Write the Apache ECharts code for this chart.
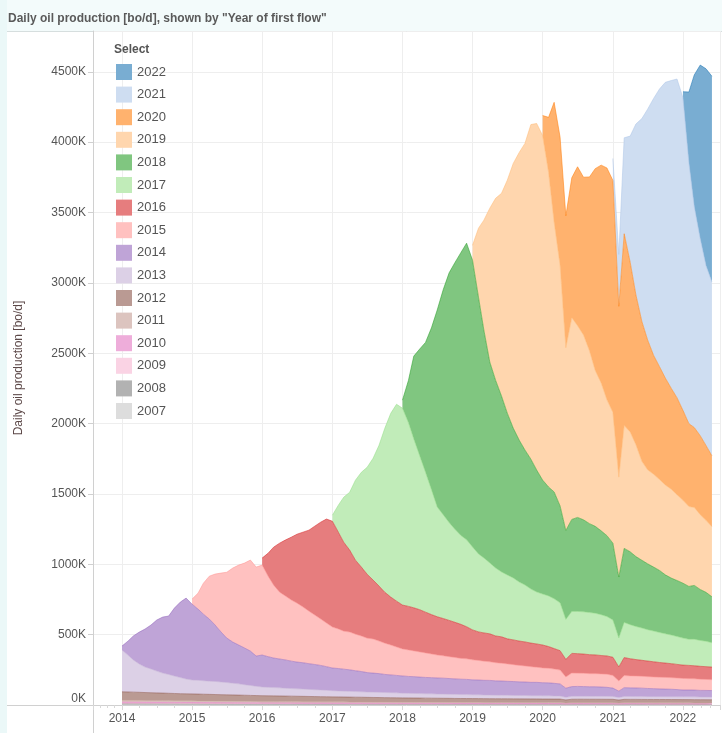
<!DOCTYPE html>
<html lang="en">
<head>
<meta charset="UTF-8">
<title>Daily oil production by year of first flow</title>
<script src="https://cdn.jsdelivr.net/npm/echarts@6.0.0/dist/echarts.min.js"></script>
<style>
  html, body { margin: 0; padding: 0; background: #fff; }
  #main { width: 722px; height: 733px; }
</style>
</head>
<body>
<div id="main"></div>
<script>
// daily oil production in thousand bo/d, one value per month from Jan 2014 to Jun 2022
// each vintage's list starts in January of its year of first flow
const years = ['2007', '2008', '2009', '2010', '2011', '2012', '2013', '2014',
               '2015', '2016', '2017', '2018', '2019', '2020', '2021', '2022'];

const y2007 = [4.0, 4.0, 4.0, 4.0, 3.9, 3.9, 3.8, 3.8, 3.7, 3.7, 3.6, 3.6,
  3.5, 3.5, 3.4, 3.4, 3.3, 3.3, 3.2, 3.2, 3.1, 3.1, 3.0, 3.0,
  3.0, 3.0, 3.0, 2.9, 2.9, 2.9, 2.9, 2.8, 2.8, 2.8, 2.8, 2.8,
  2.8, 2.7, 2.7, 2.7, 2.7, 2.7, 2.6, 2.6, 2.6, 2.6, 2.6, 2.6,
  2.5, 2.5, 2.5, 2.5, 2.5, 2.5, 2.4, 2.4, 2.4, 2.4, 2.4, 2.4,
  2.4, 2.4, 2.3, 2.3, 2.3, 2.3, 2.3, 2.3, 2.2, 2.2, 2.2, 2.2,
  2.1, 2.1, 2.1, 2.1, 1.8, 2.0, 2.0, 2.0, 2.0, 2.0, 2.0, 2.0,
  2.0, 1.8, 2.0, 2.0, 2.0, 1.9, 1.9, 1.9, 1.9, 1.9, 1.9, 1.9,
  1.9, 1.9, 1.9, 1.8, 1.8, 1.8];
const y2008 = [5.0, 5.0, 4.9, 4.9, 4.8, 4.8, 4.7, 4.7, 4.7, 4.6, 4.6, 4.6,
  4.5, 4.5, 4.4, 4.4, 4.4, 4.3, 4.3, 4.2, 4.2, 4.2, 4.1, 4.1,
  4.0, 4.0, 4.0, 3.9, 3.9, 3.9, 3.8, 3.8, 3.8, 3.7, 3.7, 3.7,
  3.6, 3.6, 3.6, 3.5, 3.5, 3.5, 3.4, 3.4, 3.4, 3.3, 3.3, 3.3,
  3.2, 3.2, 3.2, 3.2, 3.1, 3.1, 3.1, 3.1, 3.1, 3.0, 3.0, 3.0,
  3.0, 3.0, 3.0, 3.0, 3.0, 2.9, 2.9, 2.9, 2.9, 2.9, 2.9, 2.9,
  2.9, 2.9, 2.8, 2.8, 2.4, 2.7, 2.7, 2.7, 2.7, 2.7, 2.7, 2.6,
  2.6, 2.3, 2.6, 2.6, 2.6, 2.6, 2.5, 2.5, 2.5, 2.5, 2.5, 2.5,
  2.5, 2.5, 2.4, 2.4, 2.4, 2.4];
const y2009 = [4.0, 4.0, 3.9, 3.9, 3.9, 3.8, 3.8, 3.8, 3.7, 3.7, 3.7, 3.6,
  3.6, 3.5, 3.5, 3.5, 3.4, 3.4, 3.4, 3.3, 3.3, 3.3, 3.2, 3.2,
  3.1, 3.1, 3.1, 3.1, 3.0, 3.0, 3.0, 3.0, 3.0, 3.0, 2.9, 2.9,
  2.9, 2.9, 2.9, 2.8, 2.8, 2.8, 2.8, 2.7, 2.7, 2.7, 2.7, 2.6,
  2.6, 2.6, 2.6, 2.5, 2.5, 2.5, 2.5, 2.5, 2.5, 2.4, 2.4, 2.4,
  2.4, 2.4, 2.4, 2.3, 2.3, 2.3, 2.3, 2.3, 2.2, 2.2, 2.2, 2.2,
  2.1, 2.1, 2.1, 2.1, 1.8, 2.0, 2.0, 2.0, 2.0, 2.0, 2.0, 2.0,
  2.0, 1.8, 2.0, 2.0, 2.0, 2.0, 1.9, 1.9, 1.9, 1.9, 1.9, 1.9,
  1.9, 1.9, 1.9, 1.9, 1.8, 1.8];
const y2010 = [7.0, 6.9, 6.9, 6.8, 6.7, 6.6, 6.5, 6.5, 6.4, 6.3, 6.2, 6.1,
  6.0, 6.0, 5.9, 5.8, 5.7, 5.7, 5.6, 5.5, 5.4, 5.3, 5.2, 5.1,
  5.0, 5.0, 5.0, 4.9, 4.9, 4.9, 4.8, 4.8, 4.8, 4.7, 4.7, 4.6,
  4.5, 4.5, 4.5, 4.4, 4.4, 4.4, 4.3, 4.3, 4.2, 4.2, 4.1, 4.1,
  4.0, 4.0, 4.0, 4.0, 4.0, 4.0, 4.0, 4.0, 3.9, 3.9, 3.9, 3.9,
  3.9, 3.9, 3.9, 3.8, 3.8, 3.8, 3.8, 3.7, 3.7, 3.7, 3.6, 3.6,
  3.5, 3.5, 3.5, 3.5, 3.0, 3.4, 3.4, 3.4, 3.4, 3.4, 3.4, 3.4,
  3.4, 3.0, 3.4, 3.3, 3.3, 3.3, 3.3, 3.2, 3.2, 3.2, 3.1, 3.1,
  3.1, 3.1, 3.0, 3.0, 3.0, 3.0];
const y2011 = [14.0, 13.8, 13.7, 13.5, 13.3, 13.2, 13.0, 12.9, 12.7, 12.5, 12.4, 12.2,
  12.0, 11.8, 11.7, 11.5, 11.3, 11.2, 11.0, 10.8, 10.6, 10.5, 10.3, 10.1,
  10.0, 9.9, 9.8, 9.7, 9.7, 9.6, 9.5, 9.4, 9.3, 9.2, 9.1, 9.1,
  9.0, 8.9, 8.8, 8.8, 8.7, 8.6, 8.5, 8.4, 8.3, 8.2, 8.1, 8.1,
  8.0, 7.9, 7.8, 7.8, 7.7, 7.6, 7.5, 7.4, 7.3, 7.2, 7.1, 7.1,
  7.0, 7.0, 7.0, 6.9, 6.9, 6.9, 6.9, 6.8, 6.8, 6.8, 6.8, 6.8,
  6.8, 6.8, 6.7, 6.7, 5.8, 6.5, 6.5, 6.5, 6.4, 6.4, 6.4, 6.3,
  6.2, 5.5, 6.2, 6.2, 6.2, 6.1, 6.1, 6.1, 6.1, 6.0, 6.0, 6.0,
  6.0, 6.0, 5.9, 5.9, 5.9, 5.8];
const y2012 = [60, 59, 58, 57, 56, 55, 54, 53, 52, 51, 50, 49.5,
  49, 48.3, 47.6, 47, 46.3, 45.6, 45, 44.3, 43.6, 43, 42.3, 41.6,
  41, 40.5, 40, 39.5, 39, 38.5, 38, 37.5, 37, 36.5, 36, 35.5,
  35, 34.6, 34.2, 33.8, 33.4, 33, 32.6, 32.2, 31.8, 31.4, 31, 30.5,
  30, 29.7, 29.5, 29.2, 29, 28.7, 28.5, 28.2, 28, 27.7, 27.5, 27.2,
  27, 26.8, 26.7, 26.5, 26.3, 26.2, 26, 25.8, 25.7, 25.5, 25.3, 25.2,
  25, 24.9, 24.8, 24.7, 21.5, 24.2, 24.4, 24.4, 24.3, 24.3, 24.2, 24.2,
  24, 21, 23.9, 23.8, 23.8, 23.7, 23.7, 23.6, 23.5, 23.5, 23.4, 23.3,
  23, 23, 22.9, 22.8, 22.7, 22.6];
const y2013 = [296, 262, 229, 201, 181, 169, 155, 142, 134, 124, 115, 105,
  99, 98, 96, 94, 93, 90, 87, 84, 80, 75, 71, 66,
  62, 60, 59, 58, 56, 54, 53, 52, 50, 49, 48, 46,
  44, 43, 42, 41, 40, 39, 38, 38, 37, 36, 36, 35,
  34, 33, 33, 32, 31, 31, 30, 30, 29, 29, 28, 28,
  27, 27, 26, 26, 25, 25, 25, 24, 24, 24, 23, 23,
  23, 23, 22, 22, 19, 21, 21, 21, 21, 21, 21, 21,
  21, 18, 21, 21, 20, 20, 20, 20, 20, 20, 20, 20,
  20, 20, 20, 19, 19, 19];
const y2014 = [29, 99, 170, 227, 270, 312, 363, 398, 415, 483, 536, 575,
  539, 506, 473, 441, 401, 355, 316, 292, 276, 261, 244, 215,
  227, 218, 210, 205, 201, 195, 190, 187, 183, 179, 174, 168,
  161, 159, 156, 153, 148, 144, 138, 135, 133, 129, 126, 124,
  122, 120, 119, 117, 116, 115, 114, 113, 112, 110, 109, 108,
  106, 105, 104, 104, 102, 101, 99, 99, 97, 96, 95, 95,
  93, 92, 90, 86, 64, 69, 70, 69, 68, 68, 66, 64,
  59, 45, 62, 61, 61, 60, 58, 57, 55, 54, 53, 51,
  48, 48, 48, 47, 47, 46];
const y2015 = [36, 113, 220, 305, 362, 419, 468, 526, 568, 603, 647, 632,
  639, 572, 518, 475, 454, 434, 419, 396, 373, 351, 330, 310,
  291, 281, 270, 268, 260, 252, 245, 242, 231, 222, 212, 202,
  192, 188, 183, 179, 174, 168, 163, 159, 155, 152, 148, 146,
  142, 139, 136, 132, 129, 126, 124, 120, 117, 114, 111, 107,
  105, 103, 101, 98, 80, 96, 94, 94, 93, 93, 93, 93,
  90, 72, 86, 85, 85, 84, 84, 83, 83, 83, 82, 82,
  82, 81, 80, 79, 78, 77];
const y2016 = [50, 163, 270, 348, 398, 447, 490, 532, 576, 632, 688, 739,
  752, 688, 632, 583, 526, 490, 454, 419, 391, 362, 341, 326,
  312, 310, 306, 300, 290, 280, 272, 265, 258, 250, 242, 228,
  213, 203, 201, 199, 190, 188, 178, 176, 173, 171, 168, 166,
  163, 155, 146, 138, 125, 140, 139, 137, 135, 133, 131, 130,
  129, 100, 128, 122, 117, 114, 111, 108, 105, 102, 100, 97,
  95, 94, 93, 92, 91, 90];
const y2017 = [43, 192, 320, 411, 568, 674, 760, 866, 1001, 1165, 1306, 1399,
  1399, 1306, 1200, 1093, 994, 888, 781, 738, 695, 661, 632, 618,
  589, 554, 533, 504, 483, 461, 454, 440, 419, 405, 384, 369,
  362, 360, 354, 340, 284, 298, 300, 300, 299, 296, 290, 280,
  265, 206, 250, 242, 235, 229, 223, 218, 213, 208, 203, 198,
  192, 185, 188, 184, 180, 173];
const y2018 = [57, 299, 589, 760, 923, 1150, 1399, 1598, 1775, 1895, 2009, 2108,
  2038, 1825, 1619, 1427, 1335, 1250, 1150, 1065, 1009, 959, 923, 867,
  810, 774, 759, 689, 632, 654, 668, 654, 632, 618, 596, 575,
  546, 433, 526, 518, 497, 482, 468, 455, 441, 419, 405, 398,
  390, 376, 383, 362, 348, 327];
const y2019 = [106, 490, 781, 1094, 1292, 1441, 1655, 1881, 2044, 2179, 2378, 2463,
  2449, 2236, 1917, 1711, 1299, 1434, 1363, 1313, 1229, 1108, 1051, 965,
  930, 710, 873, 852, 795, 703, 668, 660, 646, 639, 632, 610,
  590, 568, 554, 532, 512, 497];
const y2020 = [142, 391, 852, 909, 937, 994, 1129, 1122, 1235, 1434, 1548, 1648,
  1648, 1214, 1363, 1207, 1065, 994, 923, 845, 802, 760, 717, 689,
  639, 589, 568, 561, 532, 504];
const y2021 = [156, 369, 682, 895, 1214, 1442, 1640, 1825, 1974, 2101, 2187, 2265,
  2222, 1853, 1569, 1399, 1278, 1235];
const y2022 = [42, 504, 937, 1235, 1399, 1463];

const values = [y2007, y2008, y2009, y2010, y2011, y2012, y2013, y2014,
                y2015, y2016, y2017, y2018, y2019, y2020, y2021, y2022];

// Tableau 20 hues, as they look washed out on white
const fills = ['#dddddd', '#b2b2b2', '#fad3e4', '#eeadda', '#dcc4bf', '#ba9a93', '#dcd0e6', '#bfa4d7',
               '#ffc1c0', '#e67d7e', '#c1ecb9', '#80c680', '#ffd6ae', '#ffb26e', '#ceddf1', '#79add2'];
const edges = ['#c7c7c7', '#7f7f7f', '#f7b6d2', '#e377c2', '#c49c94', '#8c564b', '#c5b0d5', '#9467bd',
               '#ff9896', '#d62728', '#98df8a', '#2ca02c', '#ffbb78', '#ff7f0e', '#aec7e8', '#1f77b4'];

// monthly x positions
const months = [];
for (let i = 0; i < y2007.length; i++) {
  const yr = 2014 + Math.floor(i / 12);
  const mo = i % 12 + 1;
  months.push(yr + '-' + (mo < 10 ? '0' : '') + mo + '-01');
}

let myChart = echarts.init(document.getElementById('main'));

const series = years.map((yr, k) => {
  const start = Math.max(0, (Number(yr) - 2014) * 12);
  const arr = values[k];
  return {
    name: yr,
    type: 'line',
    stack: 'total',
    symbol: 'none',
    showSymbol: false,
    data: months.map((d, i) => [d, i >= start ? arr[i - start] : null]),
    itemStyle: { color: fills[k] },
    lineStyle: { width: 1, color: edges[k], opacity: 0.55 },
    areaStyle: { color: fills[k], opacity: 1 },
    emphasis: { disabled: true }
  };
});

const font = 'Liberation Sans, Arial, sans-serif';
const DAY = 24 * 3600 * 1000;

const options = {
  animation: false,
  backgroundColor: '#fff',
  textStyle: { fontFamily: font },
  title: [
    {
      text: 'Daily oil production [bo/d], shown by "Year of first flow"',
      left: 8, top: 13, padding: 0,
      textStyle: { fontSize: 12, fontWeight: 'bold', color: '#5a5a5a', fontFamily: font }
    },
    {
      text: 'Select',
      left: 114, top: 44, padding: 0,
      textStyle: { fontSize: 12, fontWeight: 'bold', color: '#555', fontFamily: font }
    }
  ],
  graphic: [
    { type: 'rect', z: -1, silent: true, shape: { x: 0, y: 0, width: 722, height: 31 }, style: { fill: '#f3fbfb' } },
    { type: 'rect', z: -1, silent: true, shape: { x: 0, y: 0, width: 7, height: 733 }, style: { fill: '#ebf8f8' } },
    { type: 'line', silent: true, shape: { x1: 7, y1: 31.5, x2: 722, y2: 31.5 }, style: { stroke: '#d6dede', lineWidth: 1 } },
    { type: 'line', silent: true, shape: { x1: 7, y1: 705.5, x2: 93, y2: 705.5 }, style: { stroke: '#d0d0d0', lineWidth: 1 } },
    { type: 'line', silent: true, shape: { x1: 93.5, y1: 705, x2: 93.5, y2: 733 }, style: { stroke: '#d0d0d0', lineWidth: 1 } }
  ],
  legend: {
    orient: 'vertical',
    left: 116, top: 64, padding: 0,
    itemWidth: 16, itemHeight: 16, itemGap: 6.6,
    icon: 'rect',
    itemStyle: { borderWidth: 0 },
    textStyle: { color: '#555', fontSize: 13, fontFamily: font },
    data: years.slice().reverse()
  },
  grid: { left: 93, right: 2, top: 31, bottom: 28, outerBoundsMode: 'none' },
  xAxis: {
    type: 'time',
    min: +new Date(2013, 7, 3),
    max: +new Date(2022, 6, 13),
    minInterval: 365 * DAY,
    maxInterval: 366 * DAY,
    axisLine: { lineStyle: { color: '#d0d0d0' } },
    axisTick: { show: true, length: 5, lineStyle: { color: '#d8d8d8' } },
    minorTick: { show: true, splitNumber: 4, length: 3, lineStyle: { color: '#d8d8d8' } },
    splitLine: { show: true, lineStyle: { color: '#eeeeee' } },
    axisLabel: {
      formatter: '{yyyy}', color: '#555', fontSize: 12, margin: 8,
      showMinLabel: false, showMaxLabel: false
    }
  },
  yAxis: {
    type: 'value',
    min: 0, max: 4790, interval: 500,
    name: 'Daily oil production [bo/d]',
    nameLocation: 'middle',
    nameGap: 68,
    nameTextStyle: { color: '#5c4848', fontSize: 12, fontFamily: font },
    axisLine: { show: true, lineStyle: { color: '#d0d0d0' } },
    axisTick: { show: true, length: 5, lineStyle: { color: '#d0d0d0' } },
    splitLine: { lineStyle: { color: '#eeeeee' } },
    axisLabel: {
      formatter: v => v + 'K', color: '#555', fontSize: 12, margin: 7,
      showMaxLabel: false, verticalAlignMinLabel: 'bottom'
    }
  },
  series: series
};

myChart.setOption(options);
</script>
</body>
</html>
